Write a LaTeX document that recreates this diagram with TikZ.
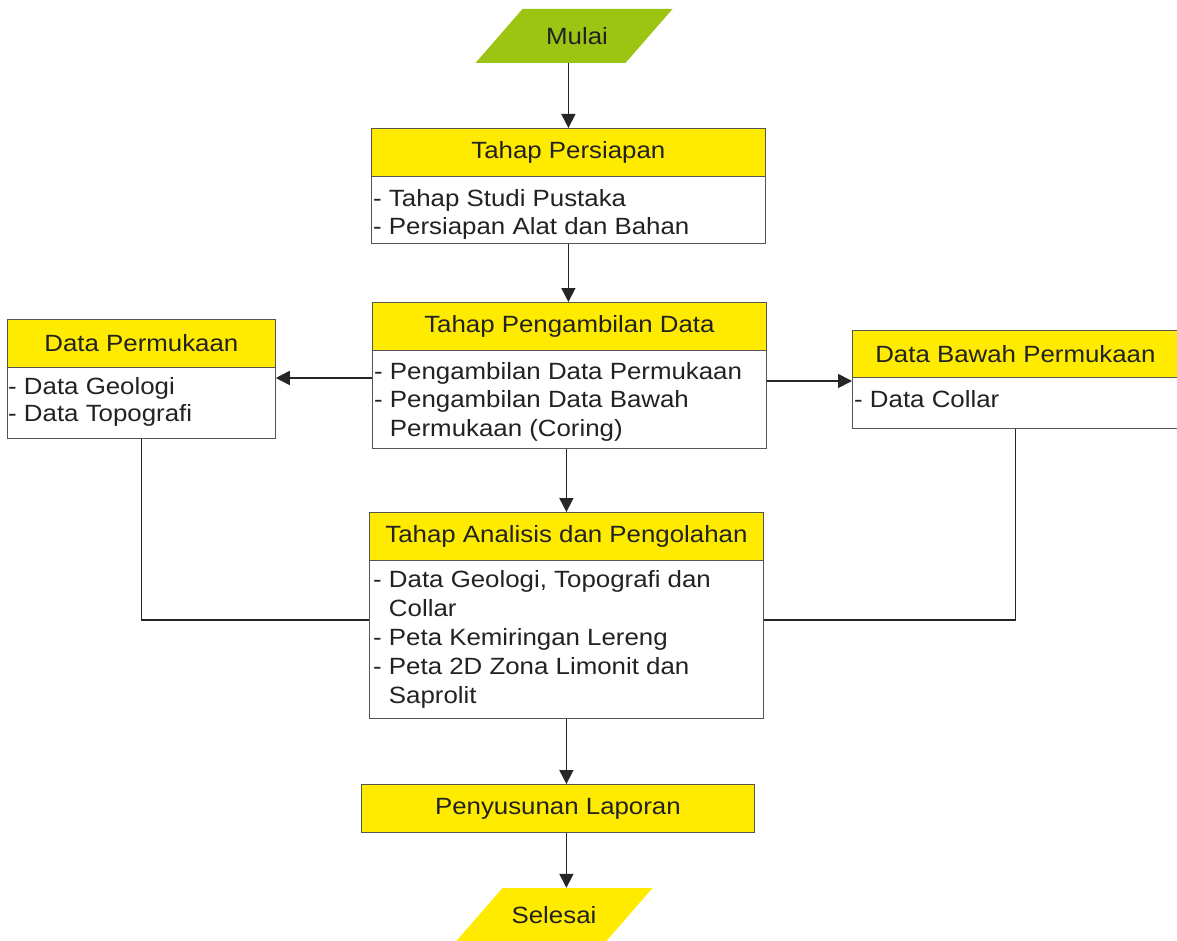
\documentclass[tikz,border=0pt]{standalone}
\usepackage{fontspec}
\setmainfont[FakeStretch=1.1]{Liberation Sans}
\usetikzlibrary{arrows.meta,calc}
\definecolor{hy}{HTML}{FFEB00}
\definecolor{gr}{HTML}{9CC413}
\definecolor{tx}{HTML}{222222}
\definecolor{bd}{HTML}{555555}
\begin{document}
\begin{tikzpicture}[x=1pt,y=-1pt,
 font=\fontsize{23.5}{28}\selectfont, text=tx,
 head/.style={draw=bd, line width=0.8pt, fill=hy, anchor=north west, inner sep=0pt},
 bodybox/.style={draw=bd, line width=0.8pt, fill=white, anchor=north west, inner sep=0pt},
 bodytext/.style={anchor=base west, align=left, inner sep=0pt},
 arr/.style={draw=black!85, line width=1.7pt, -{Triangle[width=14pt,length=14pt]}},
 link/.style={draw=black!85, line width=1.7pt},
 para/.style={minimum width=197pt, minimum height=54pt, inner sep=0pt,
   path picture={\fill[#1] (path picture bounding box.south west)
     -- ([xshift=-47pt]path picture bounding box.south east)
     -- (path picture bounding box.north east)
     -- ([xshift=47pt]path picture bounding box.north west) -- cycle;}}
]
\useasboundingbox[fill=white] (0,0) rectangle (1177,941);

% start
\node[para=gr] (mulai) at (574,36) {\hspace{6pt}Mulai};

% Tahap Persiapan
\node[head, minimum width=394pt, minimum height=48pt] (p1h) at (371,128) {Tahap Persiapan};
\node[bodybox, minimum width=394pt, minimum height=67pt] (p1b) at (371,176) {};
\node[bodytext] (p1t) at (373,235) {- Tahap Studi Pustaka\\- Persiapan Alat dan Bahan};

% Tahap Pengambilan Data
\node[head, minimum width=394pt, minimum height=48pt] (p2h) at (372,302) {Tahap Pengambilan Data};
\node[bodybox, minimum width=394pt, minimum height=98pt] (p2b) at (372,350) {};
\node[bodytext, font=\fontsize{23.5}{28.5}\selectfont] (p2t) at (374,436) {- Pengambilan Data Permukaan\\- Pengambilan Data Bawah\\\hphantom{- }Permukaan (Coring)};

% Data Permukaan
\node[head, minimum width=268pt, minimum height=48pt] (lh) at (7,319) {Data Permukaan};
\node[bodybox, minimum width=268pt, minimum height=71pt] (lb) at (7,367) {};
\node[bodytext, font=\fontsize{23.5}{27}\selectfont] (lt) at (8,421) {- Data Geologi\\- Data Topografi};

% Data Bawah Permukaan
\node[head, minimum width=326pt, minimum height=47pt] (rh) at (852,330) {Data Bawah Permukaan};
\node[bodybox, minimum width=326pt, minimum height=51pt] (rb) at (852,377) {};
\node[bodytext] (rt) at (854,407) {- Data Collar};

% Tahap Analisis dan Pengolahan
\node[head, minimum width=394pt, minimum height=48pt] (anh) at (369,512) {Tahap Analisis dan Pengolahan};
\node[bodybox, minimum width=394pt, minimum height=158pt] (anb) at (369,560) {};
\node[bodytext, font=\fontsize{23.5}{29}\selectfont] (ant) at (373,703) {- Data Geologi, Topografi dan\\\hphantom{- }Collar\\- Peta Kemiringan Lereng\\- Peta 2D Zona Limonit dan\\\hphantom{- }Saprolit};

% Penyusunan Laporan
\node[head, minimum width=393pt, minimum height=48pt] (pen) at (361,784) {Penyusunan Laporan};

% end
\node[para=hy] (sel) at (554,915) {Selesai};

% connector anchor points
\coordinate (p2l) at ([yshift=-28pt]p2b.north west);
\coordinate (p2r) at ([yshift=-31pt]p2b.north east);
\coordinate (anl) at ([yshift=-60pt]anb.north west);
\coordinate (anr) at ([yshift=-60pt]anb.north east);

% connectors
\draw[arr] (p1h.north |- mulai.south) -- (p1h.north);
\draw[arr] (p1b.south) -- (p1b.south |- p2h.north);
\draw[arr] (p2l) -- (lb.east |- p2l);
\draw[arr] (p2r) -- (rb.west |- p2r);
\draw[arr] (p2b.south -| anh.north) -- (anh.north);
\draw[link] (lb.south) |- (anl);
\draw[link] (rb.south) |- (anr);
\draw[arr] (anb.south) -- (anb.south |- pen.north);
\draw[arr] (anb.south |- pen.south) -- (anb.south |- sel.north);
\end{tikzpicture}
\end{document}
